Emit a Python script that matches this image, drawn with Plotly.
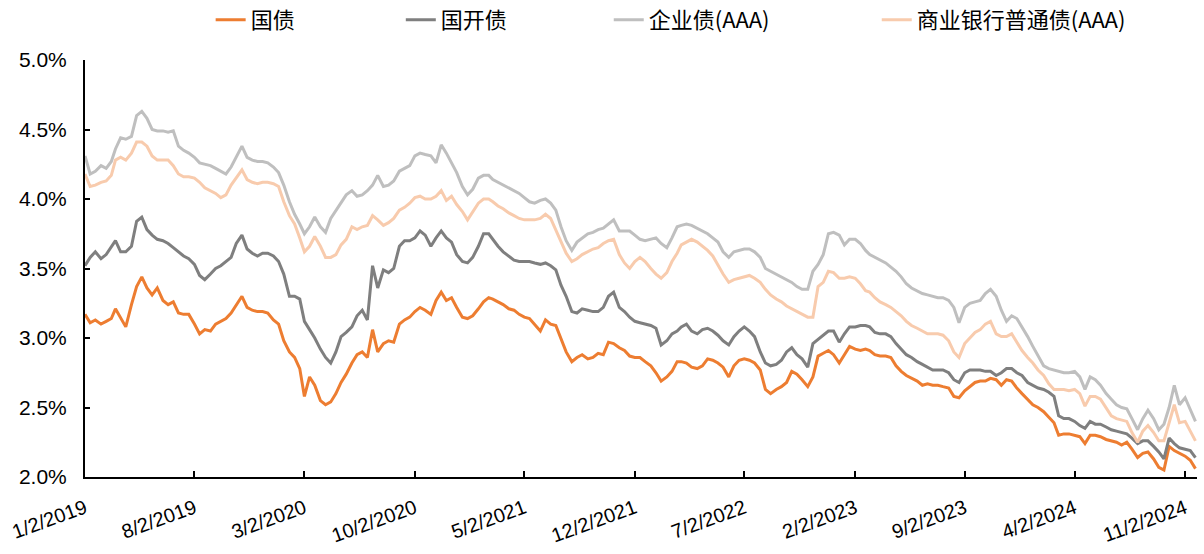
import pandas as pd
import plotly.graph_objects as go

# Observation dates: three readings per month (2nd, 12th, 22nd), Jan 2019 - Nov 2024
months = pd.date_range("2019-01-01", "2024-11-01", freq="MS")
dates = [m + pd.Timedelta(days=d) for m in months for d in (1, 11, 21)]

# 国债 yield (%)
gov = [
    3.17, 3.11, 3.13, 3.10, 3.12, 3.14, 3.21, 3.15, 3.08, 3.24, 3.37, 3.44,
    3.36, 3.31, 3.36, 3.27, 3.24, 3.26, 3.18, 3.17, 3.17, 3.10, 3.03, 3.06,
    3.05, 3.10, 3.12, 3.14, 3.18, 3.24, 3.30, 3.22, 3.20, 3.19, 3.19, 3.18,
    3.13, 3.10, 2.98, 2.90, 2.86, 2.78, 2.58, 2.72, 2.66, 2.55, 2.52, 2.54,
    2.60, 2.68, 2.74, 2.82, 2.88, 2.90, 2.86, 3.06, 2.90, 2.96, 2.98, 2.97,
    3.10, 3.13, 3.15, 3.19, 3.22, 3.20, 3.17, 3.27, 3.33, 3.27, 3.29, 3.22,
    3.15, 3.14, 3.16, 3.21, 3.26, 3.29, 3.28, 3.26, 3.24, 3.21, 3.20, 3.17,
    3.15, 3.14, 3.10, 3.05, 3.13, 3.10, 3.09, 3.00, 2.90, 2.83, 2.86, 2.88,
    2.85, 2.86, 2.89, 2.88, 2.97, 2.96, 2.93, 2.91, 2.87, 2.86, 2.86, 2.83,
    2.80, 2.75, 2.69, 2.72, 2.76, 2.83, 2.83, 2.82, 2.79, 2.78, 2.80, 2.85,
    2.84, 2.82, 2.79, 2.72, 2.80, 2.84, 2.85, 2.84, 2.82, 2.77, 2.63, 2.60,
    2.63, 2.65, 2.68, 2.76, 2.74, 2.70, 2.65, 2.72, 2.87, 2.89, 2.91, 2.88,
    2.82, 2.88, 2.94, 2.92, 2.91, 2.92, 2.91, 2.88, 2.87, 2.87, 2.86, 2.80,
    2.76, 2.73, 2.71, 2.69, 2.66, 2.67, 2.66, 2.66, 2.65, 2.64, 2.58, 2.57,
    2.62, 2.65, 2.68, 2.69, 2.69, 2.71, 2.70, 2.66, 2.70, 2.69, 2.64, 2.60,
    2.56, 2.52, 2.50, 2.47, 2.43, 2.39, 2.30, 2.31, 2.31, 2.30, 2.29, 2.24,
    2.30, 2.30, 2.29, 2.27, 2.26, 2.25, 2.23, 2.25, 2.20, 2.14, 2.17, 2.18,
    2.13, 2.07, 2.05, 2.22, 2.19, 2.17, 2.15, 2.12, 2.06,
]

# 国开债 yield (%)
cdb = [
    3.52, 3.58, 3.62, 3.57, 3.60, 3.66, 3.70, 3.62, 3.62, 3.66, 3.84, 3.87,
    3.78, 3.74, 3.71, 3.70, 3.68, 3.65, 3.62, 3.59, 3.57, 3.53, 3.45, 3.42,
    3.46, 3.50, 3.52, 3.55, 3.58, 3.68, 3.74, 3.64, 3.61, 3.59, 3.61, 3.61,
    3.59, 3.55, 3.46, 3.30, 3.30, 3.28, 3.12, 3.06, 3.00, 2.92, 2.86, 2.82,
    2.90, 3.01, 3.04, 3.08, 3.16, 3.20, 3.13, 3.52, 3.36, 3.49, 3.47, 3.50,
    3.66, 3.70, 3.70, 3.72, 3.77, 3.74, 3.66, 3.72, 3.77, 3.72, 3.69, 3.60,
    3.55, 3.54, 3.58, 3.66, 3.75, 3.75, 3.71, 3.66, 3.62, 3.59, 3.56, 3.55,
    3.55, 3.55, 3.54, 3.53, 3.54, 3.52, 3.49, 3.38, 3.30, 3.19, 3.18, 3.21,
    3.20, 3.19, 3.19, 3.22, 3.30, 3.33, 3.22, 3.19, 3.15, 3.12, 3.11, 3.10,
    3.09, 3.07, 2.95, 2.98, 3.03, 3.05, 3.08, 3.10, 3.05, 3.03, 3.06, 3.07,
    3.05, 3.02, 2.98, 2.95, 3.01, 3.05, 3.08, 3.05, 3.01, 2.90, 2.82, 2.80,
    2.81, 2.84, 2.90, 2.93, 2.88, 2.85, 2.79, 2.96, 2.99, 3.02, 3.05, 3.05,
    2.97, 3.03, 3.08, 3.08, 3.09, 3.09, 3.08, 3.04, 3.03, 3.03, 3.01, 2.96,
    2.92, 2.88, 2.86, 2.83, 2.81, 2.79, 2.77, 2.77, 2.77, 2.75, 2.70, 2.68,
    2.75, 2.77, 2.77, 2.77, 2.76, 2.76, 2.73, 2.75, 2.78, 2.78, 2.75, 2.73,
    2.68, 2.66, 2.64, 2.63, 2.61, 2.58, 2.44, 2.42, 2.42, 2.40, 2.37, 2.35,
    2.40, 2.38, 2.38, 2.36, 2.34, 2.33, 2.32, 2.31, 2.28, 2.24, 2.26, 2.26,
    2.22, 2.18, 2.13, 2.28, 2.24, 2.21, 2.20, 2.19, 2.14,
]

# 企业债(AAA) yield (%)
corp = [
    4.31, 4.18, 4.20, 4.24, 4.22, 4.27, 4.36, 4.44, 4.43, 4.45, 4.60, 4.63,
    4.58, 4.50, 4.49, 4.49, 4.48, 4.49, 4.38, 4.35, 4.33, 4.30, 4.26, 4.25,
    4.24, 4.22, 4.20, 4.18, 4.23, 4.30, 4.38, 4.30, 4.28, 4.27, 4.27, 4.26,
    4.23, 4.19, 4.10, 3.98, 3.89, 3.82, 3.75, 3.80, 3.87, 3.80, 3.76, 3.86,
    3.92, 3.98, 4.03, 4.06, 4.02, 4.03, 4.06, 4.10, 4.17, 4.09, 4.10, 4.13,
    4.20, 4.22, 4.24, 4.31, 4.33, 4.32, 4.31, 4.26, 4.39, 4.33, 4.26, 4.19,
    4.09, 4.03, 4.07, 4.15, 4.17, 4.17, 4.14, 4.12, 4.10, 4.08, 4.06, 4.04,
    4.01, 3.98, 3.97, 3.99, 4.00, 3.97, 3.92, 3.80, 3.70, 3.63, 3.69, 3.72,
    3.75, 3.76, 3.78, 3.79, 3.82, 3.85, 3.77, 3.77, 3.77, 3.74, 3.71, 3.70,
    3.71, 3.72, 3.68, 3.65, 3.72, 3.80, 3.81, 3.82, 3.81, 3.79, 3.77, 3.75,
    3.72, 3.69, 3.62, 3.58, 3.62, 3.63, 3.64, 3.64, 3.62, 3.58, 3.50, 3.48,
    3.46, 3.44, 3.42, 3.40, 3.37, 3.35, 3.35, 3.48, 3.53, 3.60, 3.75, 3.76,
    3.74, 3.67, 3.71, 3.71, 3.68, 3.63, 3.60, 3.58, 3.56, 3.54, 3.51, 3.48,
    3.44, 3.39, 3.36, 3.34, 3.32, 3.31, 3.30, 3.29, 3.29, 3.27, 3.22, 3.11,
    3.22, 3.25, 3.26, 3.27, 3.32, 3.35, 3.30, 3.20, 3.12, 3.16, 3.14, 3.08,
    3.01, 2.94, 2.87, 2.80, 2.78, 2.77, 2.76, 2.75, 2.75, 2.76, 2.72, 2.63,
    2.72, 2.70, 2.66, 2.60, 2.56, 2.52, 2.50, 2.49, 2.42, 2.34, 2.42, 2.48,
    2.42, 2.34, 2.38, 2.50, 2.66, 2.52, 2.57, 2.48, 2.40,
]

# 商业银行普通债(AAA) yield (%)
bank = [
    4.18, 4.09, 4.10, 4.12, 4.13, 4.17, 4.28, 4.30, 4.28, 4.33, 4.41, 4.41,
    4.38, 4.31, 4.28, 4.28, 4.28, 4.24, 4.18, 4.16, 4.16, 4.15, 4.12, 4.08,
    4.06, 4.04, 4.01, 4.03, 4.10, 4.15, 4.21, 4.14, 4.12, 4.11, 4.12, 4.12,
    4.11, 4.09, 3.98, 3.88, 3.82, 3.72, 3.62, 3.66, 3.73, 3.66, 3.58, 3.58,
    3.60, 3.67, 3.71, 3.80, 3.78, 3.80, 3.81, 3.88, 3.85, 3.81, 3.83, 3.86,
    3.92, 3.94, 3.97, 4.01, 4.02, 4.00, 4.00, 4.02, 4.06, 3.99, 4.02, 3.96,
    3.91, 3.85, 3.91, 3.97, 4.00, 4.00, 3.98, 3.95, 3.93, 3.90, 3.88, 3.86,
    3.85, 3.85, 3.85, 3.86, 3.89, 3.86, 3.78, 3.69, 3.61, 3.55, 3.57, 3.60,
    3.62, 3.64, 3.65, 3.68, 3.70, 3.71, 3.60, 3.54, 3.50, 3.55, 3.58, 3.55,
    3.50, 3.46, 3.43, 3.47, 3.55, 3.61, 3.67, 3.69, 3.71, 3.69, 3.66, 3.63,
    3.59, 3.52, 3.46, 3.40, 3.42, 3.43, 3.44, 3.45, 3.43, 3.40, 3.35, 3.31,
    3.28, 3.26, 3.23, 3.21, 3.19, 3.17, 3.15, 3.15, 3.37, 3.40, 3.48, 3.47,
    3.43, 3.43, 3.44, 3.43, 3.39, 3.34, 3.33, 3.29, 3.26, 3.24, 3.22, 3.19,
    3.16, 3.12, 3.09, 3.07, 3.05, 3.03, 3.03, 3.03, 3.02, 2.98, 2.90, 2.86,
    2.96, 3.00, 3.04, 3.06, 3.10, 3.12, 3.03, 3.01, 3.01, 3.03, 2.97, 2.91,
    2.86, 2.82, 2.77, 2.73, 2.67, 2.63, 2.63, 2.63, 2.62, 2.63, 2.60, 2.51,
    2.58, 2.58, 2.56, 2.50, 2.44, 2.42, 2.41, 2.40, 2.32, 2.25, 2.33, 2.37,
    2.32, 2.26, 2.26, 2.40, 2.52, 2.39, 2.40, 2.33, 2.26,
]

series_names = ["国债", "国开债", "企业债(AAA)", "商业银行普通债(AAA)"]
series_values = [gov, cdb, corp, bank]
series_colors = ["#ED7D31", "#7F7F7F", "#BFBFBF", "#F8CBAD"]
legend_ids = ["legend", "legend2", "legend3", "legend4"]
legend_x = [0.113, 0.284, 0.471, 0.712]   # left edge of each legend entry (paper units)

# x-axis labels every seven months, starting 1/2/2019
tick_dates = pd.date_range("2019-01-01", periods=11, freq="7MS") + pd.Timedelta(days=1)
tick_labels = ["1/2/2019", "8/2/2019", "3/2/2020", "10/2/2020", "5/2/2021",
               "12/2/2021", "7/2/2022", "2/2/2023", "9/2/2023", "4/2/2024",
               "11/2/2024"]
y_ticks = [2.0, 2.5, 3.0, 3.5, 4.0, 4.5, 5.0]

fig = go.Figure()
for name, vals, color, lg in zip(series_names, series_values, series_colors, legend_ids):
    fig.add_trace(go.Scatter(
        x=dates, y=vals, name=name, mode="lines",
        line=dict(color=color, width=3), legend=lg,
    ))

font_main = "Liberation Sans, Arial, Noto Sans CJK SC, sans-serif"
legend_font = dict(family="Noto Sans CJK SC, Liberation Sans, sans-serif", size=22, color="#000000")

layout_legends = {}
for lg, lx in zip(legend_ids, legend_x):
    layout_legends[lg] = dict(
        orientation="h", x=lx, xanchor="left", xref="paper",
        y=0.964, yanchor="middle", yref="container",
        font=legend_font, bgcolor="rgba(0,0,0,0)", borderwidth=0,
    )

fig.update_layout(
    width=1204, height=554,
    margin=dict(l=85, r=7, t=60, b=67),
    paper_bgcolor="white", plot_bgcolor="white",
    font=dict(family=font_main, size=21, color="#000000"),
    showlegend=True,
    xaxis=dict(
        type="date",
        range=[pd.Timestamp("2019-01-02"), pd.Timestamp("2024-11-25")],
        tickmode="array", tickvals=list(tick_dates), ticktext=tick_labels,
        tickangle=-20, ticks="inside", ticklen=6, tickwidth=1.5, tickcolor="#000000",
        showline=True, linecolor="#000000", linewidth=2,
        showgrid=False, zeroline=False,
        tickfont=dict(size=20), ticklabelstandoff=10,
    ),
    yaxis=dict(
        range=[2.0, 5.0], tickmode="array", tickvals=y_ticks,
        ticktext=[f"{v:.1f}%" for v in y_ticks],
        ticks="inside", ticklen=5, tickwidth=1.5, tickcolor="#000000",
        showline=True, linecolor="#000000", linewidth=2,
        showgrid=False, zeroline=False,
        tickfont=dict(size=21), ticklabelstandoff=12,
    ),
    **layout_legends,
)

fig.write_html("out.html")
